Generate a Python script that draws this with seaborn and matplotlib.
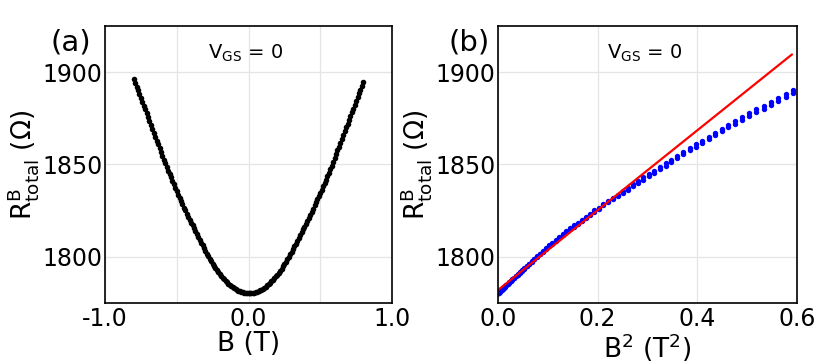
import matplotlib
matplotlib.use("Agg")
import matplotlib.pyplot as plt
import seaborn as sns
import pandas as pd

sns.set_style("whitegrid", {"axes.edgecolor": "black", "grid.color": "#e4e4e4"})
plt.rcParams["font.family"] = ["DejaVu Sans"]
plt.rcParams["axes.unicode_minus"] = False
plt.rcParams["text.color"] = "black"
plt.rcParams["axes.labelcolor"] = "black"
plt.rcParams["xtick.color"] = "black"
plt.rcParams["ytick.color"] = "black"

# -----------------------------------------------------------------
# Data
# -----------------------------------------------------------------
# field magnitude |B| (T), sweep in 0.01 T steps
B_MAG = [
    0.00, 0.01, 0.02, 0.03, 0.04, 0.05, 0.06, 0.07, 0.08, 0.09,
    0.10, 0.11, 0.12, 0.13, 0.14, 0.15, 0.16, 0.17, 0.18, 0.19,
    0.20, 0.21, 0.22, 0.23, 0.24, 0.25, 0.26, 0.27, 0.28, 0.29,
    0.30, 0.31, 0.32, 0.33, 0.34, 0.35, 0.36, 0.37, 0.38, 0.39,
    0.40, 0.41, 0.42, 0.43, 0.44, 0.45, 0.46, 0.47, 0.48, 0.49,
    0.50, 0.51, 0.52, 0.53, 0.54, 0.55, 0.56, 0.57, 0.58, 0.59,
    0.60, 0.61, 0.62, 0.63, 0.64, 0.65, 0.66, 0.67, 0.68, 0.69,
    0.70, 0.71, 0.72, 0.73, 0.74, 0.75, 0.76, 0.77, 0.78, 0.79,
    0.80,
]
# R_total (Ohm) on the negative-field branch, B = -|B|
R_NEG = [
    1780.3, 1780.4, 1780.5, 1780.6, 1780.8, 1781.1, 1781.3, 1781.7, 1782.1, 1782.5,
    1783.0, 1783.5, 1784.1, 1784.8, 1785.5, 1786.2, 1787.0, 1787.8, 1788.7, 1789.6,
    1790.6, 1791.6, 1792.7, 1793.8, 1795.0, 1796.2, 1797.5, 1798.8, 1800.2, 1801.7,
    1803.2, 1804.7, 1806.2, 1807.7, 1809.3, 1810.8, 1812.3, 1813.8, 1815.4, 1817.0,
    1818.5, 1820.1, 1821.7, 1823.4, 1825.1, 1826.7, 1828.4, 1830.1, 1831.8, 1833.5,
    1835.7, 1837.5, 1839.3, 1841.1, 1843.0, 1844.8, 1846.7, 1848.6, 1850.6, 1852.6,
    1854.6, 1856.7, 1858.8, 1860.9, 1862.9, 1865.0, 1867.1, 1869.2, 1871.3, 1873.3,
    1875.6, 1877.7, 1879.8, 1881.8, 1884.0, 1886.0, 1888.0, 1890.1, 1892.2, 1894.3,
    1896.5,
]
# R_total (Ohm) on the positive-field branch, B = +|B|
R_POS = [
    1780.3, 1780.2, 1780.3, 1780.4, 1780.6, 1780.9, 1781.1, 1781.5, 1781.9, 1782.3,
    1782.8, 1783.3, 1783.9, 1784.6, 1785.3, 1786.0, 1786.8, 1787.6, 1788.5, 1789.4,
    1790.4, 1791.4, 1792.5, 1793.6, 1794.8, 1796.0, 1797.3, 1798.6, 1800.0, 1801.3,
    1802.6, 1804.1, 1805.6, 1807.1, 1808.7, 1810.2, 1811.7, 1813.2, 1814.8, 1816.4,
    1817.9, 1819.5, 1821.1, 1822.8, 1824.5, 1826.1, 1827.8, 1829.5, 1831.2, 1832.9,
    1834.5, 1836.3, 1838.1, 1839.9, 1841.8, 1843.6, 1845.5, 1847.4, 1849.4, 1851.4,
    1853.4, 1855.5, 1857.6, 1859.7, 1861.7, 1863.8, 1865.9, 1868.0, 1870.1, 1872.1,
    1874.0, 1876.1, 1878.2, 1880.2, 1882.4, 1884.4, 1886.4, 1888.5, 1890.6, 1892.7,
    1894.5,
]
# linear fit R vs B^2 (red line)
FIT_B2 = [0.0, 0.59]
FIT_R = [1782.0, 1909.6]

A_XTICKS = [-1.0, -0.5, 0.0, 0.5, 1.0]
A_XLABELS = ["-1.0", "", "0.0", "", "1.0"]
B_XTICKS = [0.0, 0.2, 0.4, 0.6]
B_XLABELS = ["0.0", "0.2", "0.4", "0.6"]
YTICKS = [1800, 1850, 1900]

df = pd.DataFrame({
    "B": [-b for b in B_MAG] + B_MAG,
    "R": R_NEG + R_POS,
})
df["B2"] = df["B"] ** 2

# -----------------------------------------------------------------
# Figure
# -----------------------------------------------------------------
FS_TICK = 17
FS_LABEL = 19
fig = plt.figure(figsize=(8.3, 3.64), dpi=100)
ax_a = fig.add_axes([0.1265, 0.1676, 0.3458, 0.761])
ax_b = fig.add_axes([0.600, 0.1676, 0.3602, 0.761])

sns.scatterplot(data=df, x="B", y="R", ax=ax_a, color="black", s=16, linewidth=0)
sns.scatterplot(data=df, x="B2", y="R", ax=ax_b, color="#0000ff", s=15, linewidth=0)
sns.lineplot(x=FIT_B2, y=FIT_R, ax=ax_b, color="#ff0000", linewidth=1.6)

ylab = r"$\mathregular{R^{B}_{total}}$ (Ω)"
for ax in (ax_a, ax_b):
    ax.set_ylim(1775, 1925)
    ax.set_yticks(YTICKS)
    ax.tick_params(length=0, labelsize=FS_TICK)
    ax.tick_params(axis="x", pad=3)
    ax.tick_params(axis="y", pad=2)
    ax.set_ylabel(ylab, fontsize=FS_LABEL, labelpad=1)
    ax.grid(True, linewidth=0.9)
    for sp in ax.spines.values():
        sp.set_linewidth(1.2)
        sp.set_color("black")
    ax.text(0.49, 0.9, r"$\mathregular{V_{GS}}$ = 0", transform=ax.transAxes,
            ha="center", va="center", fontsize=14)

ax_a.set_xlim(-1.0, 1.0)
ax_a.set_xticks(A_XTICKS)
ax_a.set_xticklabels(A_XLABELS)
ax_a.set_xlabel("B (T)", fontsize=FS_LABEL, labelpad=0)

ax_b.set_xlim(0.0, 0.6)
ax_b.set_xticks(B_XTICKS)
ax_b.set_xticklabels(B_XLABELS)
ax_b.set_xlabel(r"$\mathregular{B^2}$ ($\mathregular{T^2}$)", fontsize=FS_LABEL, labelpad=0)

fig.text(71 / 830, 1 - 42 / 364, "(a)", ha="center", va="center", fontsize=21)
fig.text(469 / 830, 1 - 42 / 364, "(b)", ha="center", va="center", fontsize=21)

fig.savefig("out.png", dpi=100)
